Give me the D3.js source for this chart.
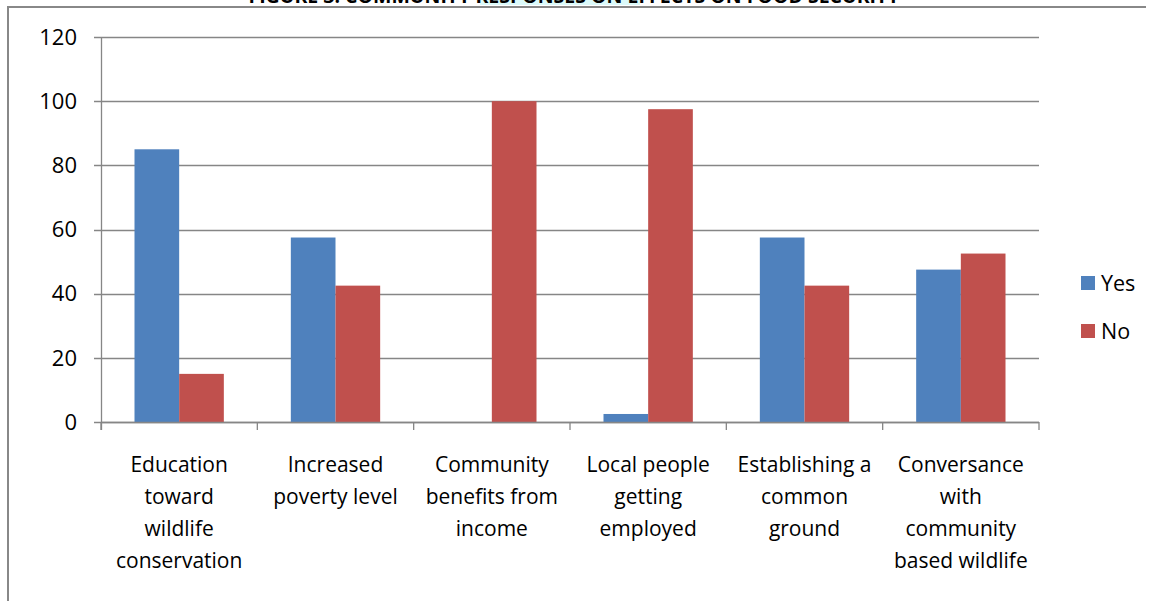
<!DOCTYPE html>
<html lang="en">
<head>
    <script src="https://d3js.org/d3.v7.min.js"></script>
    <style>
        body { margin: 0; background: #fff; }
        text { font-family: "Open Sans", Lato, sans-serif; }
    </style>
</head>
<body>
<script>
    var categories = [
        ["Education", "toward", "wildlife", "conservation"],
        ["Increased", "poverty level"],
        ["Community", "benefits from", "income"],
        ["Local people", "getting", "employed"],
        ["Establishing a", "common", "ground"],
        ["Conversance", "with", "community", "based wildlife"]
    ];
    var yesValues = [85, 57.5, 0, 2.5, 57.5, 47.5];
    var noValues = [15, 42.5, 100, 97.5, 42.5, 52.5];
    var seriesNames = ["Yes", "No"];
    var yTicks = [0, 20, 40, 60, 80, 100, 120];

    var width = 1154, height = 601;
    var colors = ["#4F81BD", "#C0504D"];
    var plotLeft = 101, plotRight = 1039, plotTop = 37, plotBottom = 422;

    var svg = d3.select("body").append("svg")
        .attr("width", width)
        .attr("height", height);

    // clipped title and outer frame (top and left only visible)
    svg.append("rect").attr("x", 480).attr("y", 0).attr("width", 160).attr("height", 5).attr("fill", "#dcfafa");
    svg.append("text")
        .attr("x", 574).attr("y", 2.5)
        .attr("text-anchor", "middle")
        .attr("font-size", 19.5).attr("font-weight", "bold")
        .text("FIGURE 3: COMMUNITY RESPONSES ON EFFECTS ON FOOD SECURITY");
    svg.append("line").attr("x1", 8).attr("x2", 1146).attr("y1", 7).attr("y2", 7)
        .attr("stroke", "#888").attr("stroke-width", 2);
    svg.append("line").attr("x1", 8).attr("x2", 8).attr("y1", 6).attr("y2", height)
        .attr("stroke", "#888").attr("stroke-width", 2);

    var x = d3.scaleBand().domain(d3.range(categories.length)).range([plotLeft, plotRight]);
    var bw = x.bandwidth() / 3.5;
    var y = d3.scaleLinear().domain([0, 120]).range([plotBottom, plotTop]);

    // gridlines
    svg.append("g").selectAll("line").data(yTicks).join("line")
        .attr("x1", plotLeft - 7).attr("x2", plotRight)
        .attr("y1", function(d) { return Math.round(y(d)) + 0.5; })
        .attr("y2", function(d) { return Math.round(y(d)) + 0.5; })
        .attr("stroke", "#868686").attr("stroke-width", 1.3);

    svg.append("g").selectAll("text").data(yTicks).join("text")
        .attr("x", 77).attr("y", function(d) { return y(d); })
        .attr("dy", "0.35em")
        .attr("text-anchor", "end")
        .attr("font-size", 22)
        .text(function(d) { return d; });

    var series = [yesValues, noValues];
    series.forEach(function(vals, s) {
        svg.append("g").selectAll("rect").data(vals).join("rect")
            .attr("x", function(d, i) { return x(i) + bw * 0.75 + s * bw; })
            .attr("y", function(d) { return y(d); })
            .attr("width", bw)
            .attr("height", function(d) { return plotBottom - y(d); })
            .attr("fill", colors[s]);
    });

    // axes
    svg.append("line").attr("x1", plotLeft + 0.5).attr("x2", plotLeft + 0.5).attr("y1", plotTop).attr("y2", plotBottom + 8)
        .attr("stroke", "#868686").attr("stroke-width", 1.3);
    svg.append("line").attr("x1", plotLeft).attr("x2", plotRight).attr("y1", plotBottom + 0.5).attr("y2", plotBottom + 0.5)
        .attr("stroke", "#868686").attr("stroke-width", 1.3);
    svg.append("g").selectAll("line").data(d3.range(categories.length + 1)).join("line")
        .attr("x1", function(i) { return plotLeft + i * x.bandwidth(); })
        .attr("x2", function(i) { return plotLeft + i * x.bandwidth(); })
        .attr("y1", plotBottom).attr("y2", plotBottom + 8)
        .attr("stroke", "#868686").attr("stroke-width", 1.3);

    // category labels
    categories.forEach(function(lines, i) {
        var t = svg.append("text")
            .attr("text-anchor", "middle")
            .attr("font-size", 21)
            .attr("fill", "#000");
        lines.forEach(function(l, j) {
            t.append("tspan")
                .attr("x", x(i) + x.bandwidth() / 2)
                .attr("y", 472 + j * 32)
                .text(l);
        });
    });

    // legend
    seriesNames.forEach(function(name, i) {
        svg.append("rect")
            .attr("x", 1081).attr("y", 276 + i * 48)
            .attr("width", 14).attr("height", 14)
            .attr("fill", colors[i]);
        svg.append("text")
            .attr("x", 1101).attr("y", 283 + i * 48)
            .attr("dy", "0.35em")
            .attr("font-size", 21.5)
            .text(name);
    });
</script>
</body>
</html>
